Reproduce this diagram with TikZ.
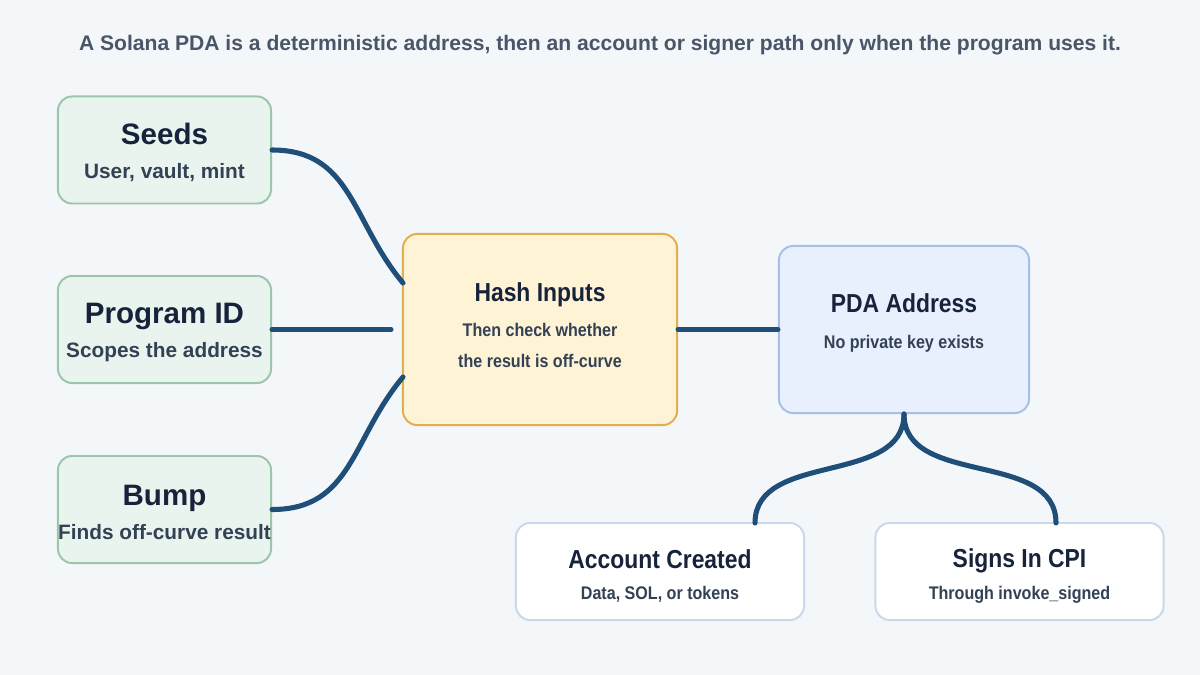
\documentclass[tikz,border=0pt]{standalone}
\usepackage{fontspec}
\setmainfont{Liberation Sans}
\newfontfamily\condfont{Liberation Sans}[FakeStretch=0.88]
\usetikzlibrary{arrows.meta}

\definecolor{bgcol}{HTML}{F3F7FA}
\definecolor{greenfill}{HTML}{E9F4EE}
\definecolor{greenline}{HTML}{9CC5AC}
\definecolor{yellowfill}{HTML}{FFF3D6}
\definecolor{yellowline}{HTML}{E0AE4C}
\definecolor{bluefill}{HTML}{E8F0FE}
\definecolor{blueline}{HTML}{A7BFE6}
\definecolor{whiteline}{HTML}{C9D8EA}
\definecolor{linkcol}{HTML}{1F4E79}
\definecolor{titlecol}{HTML}{17233A}
\definecolor{subcol}{HTML}{334155}
\definecolor{headcol}{HTML}{4A5568}

\newcommand{\lefttitle}[1]{{\bfseries\fontsize{21}{24}\selectfont\color{titlecol}#1}}
\newcommand{\leftsub}[1]{{\bfseries\fontsize{14.8}{24}\selectfont\color{subcol}#1}}
\newcommand{\righttitle}[1]{{\condfont\bfseries\fontsize{18.5}{22}\selectfont\color{titlecol}#1}}
\newcommand{\rightsub}[1]{{\condfont\bfseries\fontsize{13}{22}\selectfont\color{subcol}#1}}
% struts to move text inside a fixed box
\newcommand{\pushdown}[1]{\rule{0pt}{#1}}
\newcommand{\pushup}[1]{\rule[-#1]{0pt}{#1}}

\tikzset{
  box/.style={rounded corners=10pt, line width=1.4pt, align=center, inner sep=0pt},
  greenbox/.style={box, fill=greenfill, draw=greenline, minimum width=5.325cm, minimum height=2.675cm,
    font=\fontsize{14.8}{24}\selectfont},
  hashbox/.style={box, fill=yellowfill, draw=yellowline, minimum width=6.85cm, minimum height=4.775cm,
    font=\fontsize{13}{22}\selectfont},
  pdabox/.style={box, fill=bluefill, draw=blueline, minimum width=6.25cm, minimum height=4.175cm,
    font=\fontsize{13}{25.5}\selectfont},
  outbox/.style={box, fill=white, draw=whiteline, minimum width=7.2cm, minimum height=2.425cm,
    font=\fontsize{13}{22.5}\selectfont},
  link/.style={draw=linkcol, line width=3.6pt, line cap=round},
}

\begin{document}
\begin{tikzpicture}[x=0.025cm, y=-0.025cm]

% Background
\fill[bgcol] (0,0) rectangle (1200,675);
\useasboundingbox (0,0) rectangle (1200,675);

% Heading
\node[font=\bfseries\fontsize{15}{18}\selectfont, text=headcol] (head) at (600,45)
  {A Solana PDA is a deterministic address, then an account or signer path only when the program uses it.};

% Input boxes
\node[greenbox] (seeds) at (164.5,150) {\pushdown{19pt}\lefttitle{Seeds}\\\leftsub{User, vault, mint}};
\node[greenbox] (progid) at (164.5,329.5) {\pushdown{19pt}\lefttitle{Program ID}\\\leftsub{Scopes the address}};
\node[greenbox] (bump) at (164.5,509.5) {\pushdown{19pt}\lefttitle{Bump}\\\leftsub{Finds off-curve result}};

% Hash and address
\node[hashbox] (hash) at (540,329.5) {\righttitle{Hash Inputs}\\[3pt]\rightsub{Then check whether}\\\rightsub{the result is off-curve}\pushup{6pt}};
\node[pdabox] (pda) at (904,329.5) {\righttitle{PDA Address}\\\rightsub{No private key exists}\pushup{12pt}};

% Outcomes
\node[outbox] (account) at (660,571.5) {\pushdown{20pt}\righttitle{Account Created}\\\rightsub{Data, SOL, or tokens}};
\node[outbox] (signs) at (1019.5,571.5) {\pushdown{20pt}\righttitle{Signs In CPI}\\\rightsub{Through invoke\_signed}};

% Link ends
\coordinate (hashin) at (391,329.5);
\coordinate (hashtop) at (403,283);
\coordinate (hashlow) at (403,377);
\coordinate (accin) at (755,523);
\coordinate (signin) at (1056,523);

% Links
\draw[link] (seeds.east) to[out=0, in=130, looseness=1.1] (hashtop);
\draw[link] (progid.east) -- (hashin);
\draw[link] (bump.east) to[out=0, in=230, looseness=1.1] (hashlow);
\draw[link] (hash.east) -- (pda.west);
\draw[link] (pda.south) to[out=270, in=90] (accin);
\draw[link] (pda.south) to[out=270, in=90] (signin);

\end{tikzpicture}
\end{document}
